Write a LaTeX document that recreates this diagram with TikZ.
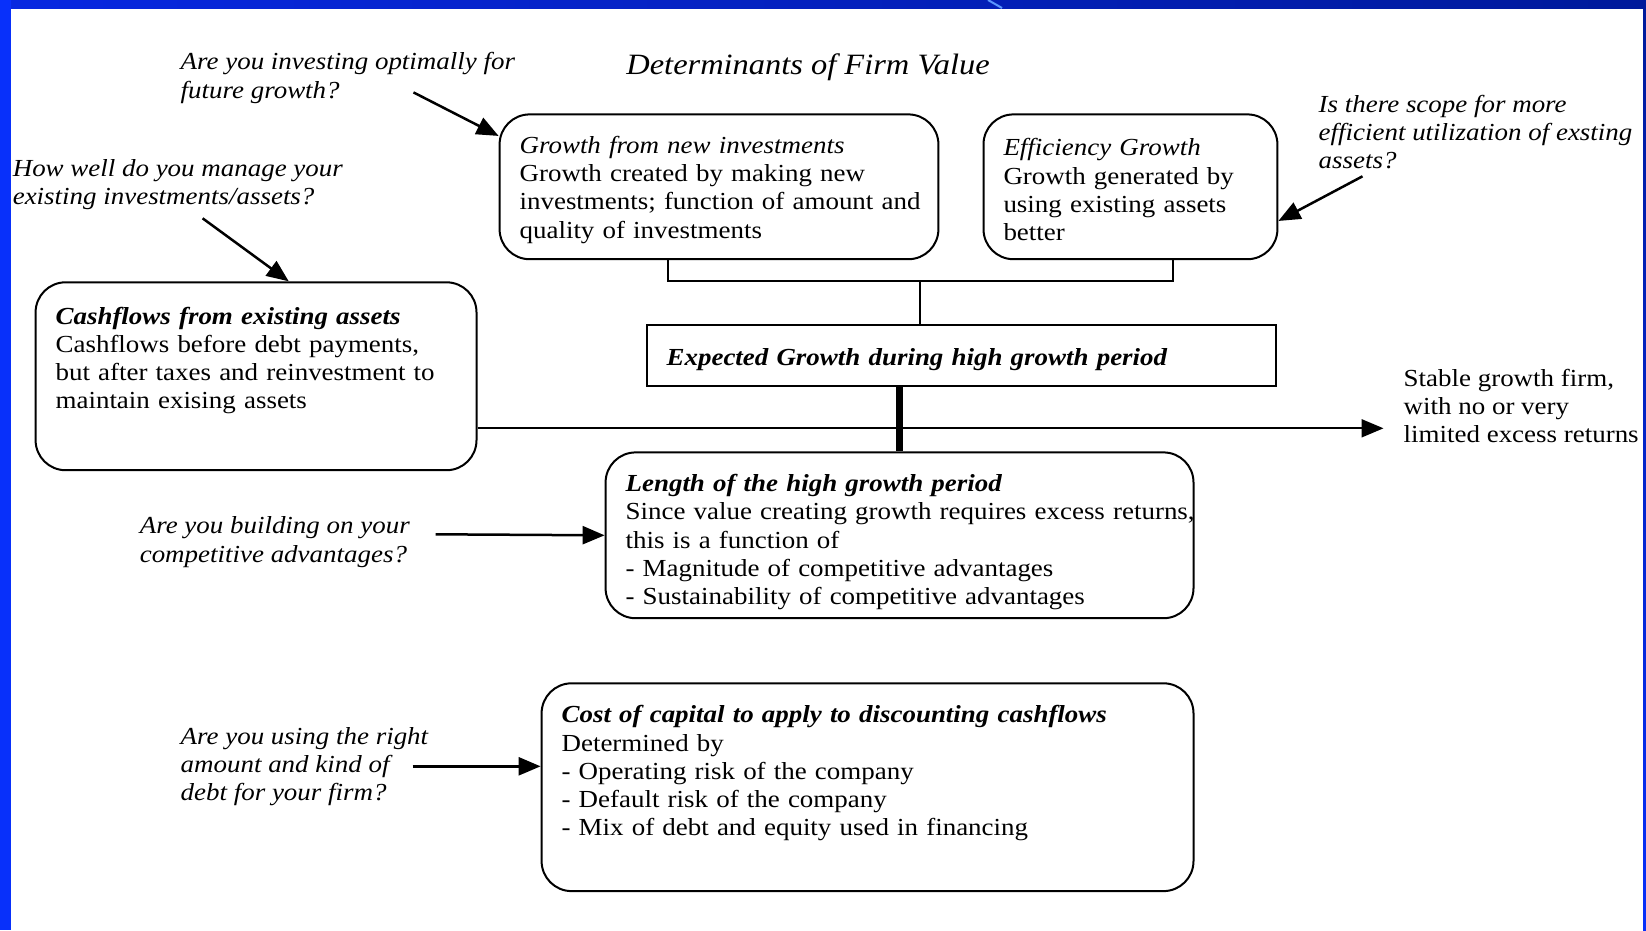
\documentclass[tikz,border=0pt]{standalone}
\usepackage{fontspec}
\setmainfont{Liberation Serif}[FakeStretch=1.1]
\usetikzlibrary{calc, positioning, arrows.meta}
\definecolor{framelight}{RGB}{8,48,250}
\definecolor{framedark}{RGB}{0,26,155}
\definecolor{frametop}{RGB}{8,40,225}
\definecolor{streak}{RGB}{90,150,255}
\newcommand{\bodyfont}{\fontsize{24.5pt}{28.3pt}\selectfont}
\newcommand{\headfont}{\fontsize{29.5pt}{34pt}\selectfont\itshape}
\newcommand{\boxhead}[1]{\textbf{\textit{#1}}}
\newcommand{\toppad}[1]{\rule{0pt}{#1}}
\tikzset{
    roundbox/.style = {draw, rectangle, rounded corners=30pt, line width=2pt, inner xsep=20pt,
      inner ysep=0pt, anchor=north west, align=left, font=\bodyfont},
    sharpbox/.style = {draw, rectangle, line width=2pt, inner xsep=20pt, inner ysep=0pt,
      anchor=north west, align=left, font=\bodyfont},
    textnode/.style = {draw=none, fill=none, rectangle, inner sep=0pt, anchor=west,
      align=left, font=\bodyfont},
    asknode/.style = {textnode, font=\bodyfont\itshape},
    connect/.style = {black, line width=2.5pt, -{Triangle[length=22pt, width=18pt]}},
    joinline/.style = {black, line width=2pt}
}

\begin{document}
\begin{tikzpicture}[x=1pt, y=-1pt]
    \useasboundingbox (0,0) rectangle (1646,930);
    % slide frame
    \fill[white] (0,0) rectangle (1646,930);
    \shade[left color=frametop, right color=framedark] (0,0) rectangle (1646,8);
    \fill[framelight] (0,0) rectangle (11,930);
    \shade[top color=framedark, bottom color=framelight] (1643,8) rectangle (1646,930);
    \draw[streak, line width=2pt] (988,0) -- (1002,8);

    \node [name = title, textnode, anchor=center, font=\headfont] at (808,67) {Determinants of Firm Value};

    % boxes
    \node [name = gni, roundbox, text width=398.8pt, minimum height=144.8pt] at (498.6,113.4)
        {\toppad{23pt}\textit{Growth from new investments}\\ Growth created by making new\\
         \mbox{investments; function of amount and}\\ quality of investments};
    \node [name = eff, roundbox, text width=253.9pt, minimum height=144.8pt] at (982.5,113.4)
        {\toppad{23pt}\textit{Efficiency Growth}\\ Growth generated by\\ using existing assets\\ better};
    \node [name = cfa, roundbox, text width=400.9pt, minimum height=187.9pt] at (34.6,281.3)
        {\boxhead{Cashflows from existing assets}\\ Cashflows before debt payments,\\
         but after taxes and reinvestment to\\ maintain exising assets\\ \strut};
    \node [name = egr, sharpbox, text width=589.8pt, minimum height=60.8pt] at (645.6,324.4)
        {\toppad{24pt}\boxhead{Expected Growth during high growth period}};
    \node [name = len, roundbox, text width=547.9pt, minimum height=165.8pt] at (604.6,451.4)
        {\toppad{31pt}\boxhead{Length of the high growth period}\\
         \mbox{Since value creating growth requires excess returns,}\\ this is a function of\\
         - Magnitude of competitive advantages\\ - Sustainability of competitive advantages};
    \node [name = coc, roundbox, text width=611.9pt, minimum height=207.8pt] at (540.6,682.3)
        {\toppad{21pt}\boxhead{Cost of capital to apply to discounting cashflows}\\ Determined by\\
         - Operating risk of the company\\ - Default risk of the company\\
         - Mix of debt and equity used in financing\\ \strut};

    % questions
    \node [name = askinvest, asknode] at (180.5,78) {Are you investing optimally for\\ future growth?};
    \node [name = askmanage, asknode] at (12.6,184.5) {How well do you manage your\\ existing investments/assets?};
    \node [name = askscope, asknode] at (1318.5,132) {Is there scope for more\\ efficient utilization of exsting\\ assets?};
    \node [name = askbuild, asknode] at (139.6,542) {Are you building on your\\ competitive advantages?};
    \node [name = askdebt, asknode] at (180.5,766.5) {Are you using the right\\ amount and kind of\\ debt for your firm?};
    \node [name = stable, textnode] at (1403.5,406) {Stable growth firm,\\ with no or very\\ limited excess returns};

    \coordinate (investfrom) at (413.5,92.4);
    \coordinate (managefrom) at (202.6,218.3);
    \coordinate (scopefrom) at (1362.5,176.3);
    \coordinate (buildfrom) at (435.6,534.3);
    \coordinate (debtfrom) at (412.5,766.3);
    \coordinate (flowy) at (0,428.3);
    \coordinate (brL) at (667.6,281);
    \coordinate (brR) at (1172.5,281);
    \coordinate (brM) at ($(brL)!.5!(brR)$);

    \draw[connect] (investfrom) -- (gni.167);
    \draw[connect] (managefrom) -- (cfa.71);
    \draw[connect] (scopefrom) -- (eff.-13);
    \draw[connect] (buildfrom) -- (len.west);
    \draw[connect] (debtfrom) -- (debtfrom -| coc.west);

    \draw[joinline] (gni.south -| brL) -- (brL) -- (brR) -- (eff.south -| brR);
    \draw[joinline] (brM) -- (brM |- egr.north);
    \draw[connect, line width=2pt, shorten >=20pt] (cfa.east |- flowy) -- (stable.west |- flowy);
    \draw[black, line width=7pt] (len.north |- egr.south) -- (len.north);
\end{tikzpicture}
\end{document}
